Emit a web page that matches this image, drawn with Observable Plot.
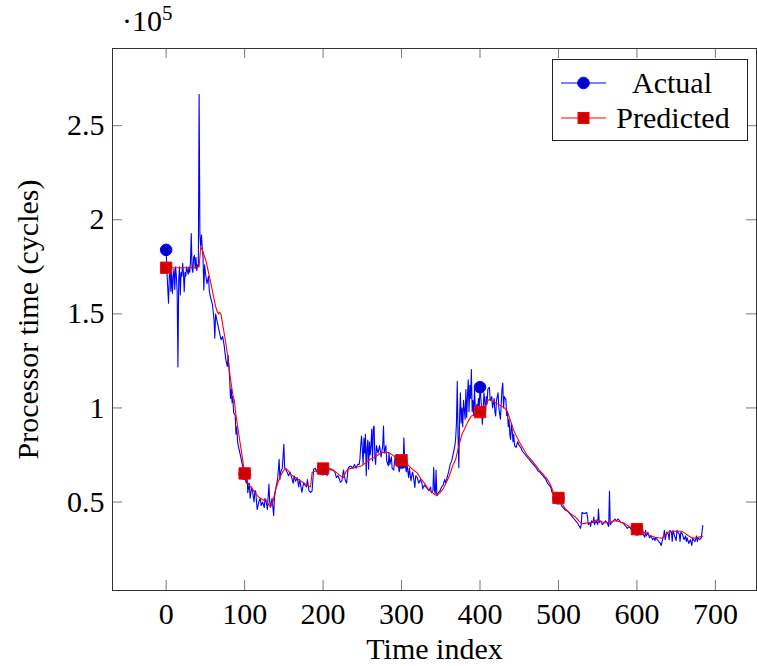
<!DOCTYPE html>
<html>
<head>
<meta charset="utf-8">
<script src="https://cdn.jsdelivr.net/npm/d3@7"></script>
<script src="https://cdn.jsdelivr.net/npm/@observablehq/plot@0.6"></script>
<style>
  html, body { margin: 0; padding: 0; background: white; }
</style>
</head>
<body>
<div id="chart"></div>
<script>
// Values in units of 1e5 processor cycles
const actualX = [0,1,3,4,5,6,7,8,9,10,11,12,13,14,15,16,17,18,19,20,21,22,23,24,25,26,27,28,29,30,31,32,33,34,35,36,37,38,39,40,41,42,43,44,45,46,47,48,49,50,52,54,55,57,59,61,62,63,64,66,68,70,72,74,76,78,79,81,82,83,84,85,86,88,89,90,91,93,95,97,99,100,102,103,104,106,107,109,110,112,113,114,116,118,120,121,123,125,126,128,129,131,132,133,135,137,138,140,142,143,144,145,146,148,150,151,152,154,156,158,160,162,163,165,167,169,170,171,173,175,177,179,180,182,184,186,188,190,192,194,196,198,200,202,205,207,210,213,215,217,219,221,222,224,226,228,230,232,234,236,238,240,242,244,246,247,248,249,250,251,252,253,254,255,256,257,258,259,260,261,262,263,264,265,266,267,268,269,270,272,274,276,277,278,280,281,283,284,285,287,288,290,292,293,295,297,299,300,302,303,304,306,307,309,310,312,314,315,317,318,320,322,324,326,327,329,331,333,335,337,338,340,341,342,343,344,345,347,349,351,353,355,356,358,360,362,364,366,368,369,370,371,372,373,374,375,376,377,378,379,380,381,382,383,384,385,386,387,388,389,390,391,392,393,394,395,396,397,398,399,400,401,402,403,404,405,406,407,408,409,410,412,413,415,416,418,419,420,421,423,424,426,427,428,429,430,431,433,434,435,436,437,438,439,440,441,442,443,444,446,448,450,452,454,456,458,460,462,464,466,468,470,472,474,476,478,480,482,484,486,488,490,492,494,496,498,500,502,504,506,508,510,512,514,516,518,520,522,524,526,527,528,529,530,532,534,536,537,538,540,541,542,544,545,546,548,550,551,552,554,556,558,560,562,564,565,566,568,570,572,574,576,578,580,582,584,586,588,590,592,594,596,598,600,602,604,606,607,608,610,611,612,614,616,618,620,622,623,624,626,628,630,631,632,634,635,636,638,640,641,642,644,645,646,648,650,651,652,654,655,656,658,660,662,663,664,666,668,670,671,672,674,676,677,678,680,682,684];
const actualY = [1.84,1.72,1.556,1.70,1.75,1.62,1.72,1.61,1.70,1.74,1.63,1.75,1.70,1.62,1.218,1.68,1.75,1.60,1.72,1.70,1.768,1.72,1.618,1.72,1.70,1.75,1.73,1.71,1.75,1.72,1.78,1.927,1.74,1.72,1.80,1.81,1.74,1.80,1.73,1.76,1.75,2.667,1.92,1.86,1.92,1.85,1.80,1.627,1.76,1.72,1.66,1.70,1.62,1.58,1.55,1.468,1.371,1.50,1.48,1.44,1.40,1.362,1.38,1.33,1.257,1.22,1.28,1.15,1.05,1.10,1.028,1.06,0.975,0.96,0.86,0.90,0.82,0.78,0.74,0.70,0.66,0.65,0.60,0.66,0.55,0.60,0.52,0.58,0.56,0.50,0.56,0.56,0.46,0.50,0.52,0.48,0.50,0.47,0.52,0.49,0.46,0.595,0.50,0.48,0.52,0.427,0.52,0.58,0.62,0.67,0.727,0.62,0.66,0.68,0.807,0.68,0.68,0.66,0.64,0.66,0.63,0.60,0.64,0.61,0.63,0.58,0.62,0.60,0.551,0.60,0.59,0.58,0.62,0.56,0.551,0.56,0.675,0.68,0.66,0.68,0.66,0.65,0.675,0.68,0.64,0.68,0.67,0.67,0.66,0.63,0.64,0.62,0.605,0.613,0.67,0.62,0.60,0.68,0.69,0.69,0.68,0.70,0.68,0.70,0.70,0.73,0.80,0.851,0.78,0.70,0.84,0.76,0.86,0.64,0.78,0.83,0.675,0.82,0.75,0.80,0.886,0.72,0.895,0.904,0.74,0.70,0.80,0.78,0.76,0.80,0.74,0.80,0.904,0.76,0.80,0.72,0.692,0.76,0.70,0.74,0.68,0.67,0.75,0.70,0.72,0.66,0.70,0.71,0.69,0.842,0.72,0.66,0.70,0.63,0.68,0.613,0.66,0.64,0.578,0.64,0.63,0.60,0.62,0.60,0.57,0.59,0.58,0.57,0.56,0.58,0.55,0.56,0.683,0.56,0.545,0.67,0.533,0.55,0.56,0.58,0.59,0.62,0.60,0.63,0.66,0.70,0.72,0.76,0.80,0.84,0.92,1.142,0.85,0.683,0.95,1.08,0.92,1.00,0.90,1.04,0.992,0.94,1.098,0.95,1.06,1.15,0.98,1.12,1.05,1.204,0.98,1.04,0.96,1.10,1.00,0.96,1.02,0.98,1.05,1.00,1.11,1.06,1.00,0.913,0.98,1.08,1.04,0.97,1.06,1.02,1.10,1.11,1.04,1.06,1.00,1.05,0.98,0.957,1.04,1.08,1.00,0.94,1.02,1.10,1.133,1.00,1.06,1.045,0.96,0.98,0.90,0.94,0.86,0.833,0.92,0.88,0.82,0.86,0.80,0.79,0.82,0.80,0.79,0.77,0.76,0.75,0.74,0.73,0.72,0.71,0.70,0.69,0.68,0.665,0.66,0.65,0.64,0.63,0.62,0.60,0.59,0.58,0.55,0.54,0.53,0.525,0.52,0.50,0.48,0.47,0.46,0.455,0.45,0.44,0.43,0.42,0.41,0.40,0.39,0.375,0.37,0.36,0.38,0.445,0.44,0.44,0.445,0.42,0.38,0.39,0.37,0.40,0.39,0.42,0.38,0.40,0.38,0.463,0.39,0.40,0.38,0.39,0.40,0.39,0.37,0.557,0.38,0.39,0.40,0.41,0.40,0.41,0.40,0.39,0.39,0.38,0.37,0.36,0.37,0.36,0.35,0.36,0.37,0.355,0.34,0.35,0.33,0.36,0.33,0.313,0.35,0.32,0.34,0.31,0.32,0.30,0.31,0.295,0.31,0.30,0.29,0.28,0.269,0.29,0.32,0.35,0.30,0.34,0.33,0.30,0.35,0.34,0.29,0.35,0.32,0.295,0.35,0.34,0.33,0.29,0.34,0.33,0.30,0.32,0.29,0.31,0.28,0.30,0.269,0.31,0.30,0.29,0.32,0.29,0.31,0.30,0.31,0.375];

const predX = [0,5,10,20,30,40,42,44,47,51,55,57,60,63,65,67,68,70,73,76,79,82,85,87,89,91,94,97,100,103,106,110,113,117,120,124,127,130,133,136,139,143,146,150,152,155,158,161,165,171,176,181,184,186,190,195,200,205,211,216,222,226,229,232,237,243,249,255,260,265,270,275,280,283,287,290,295,300,305,310,315,320,325,330,334,338,342,345,349,353,357,361,365,369,373,377,380,385,389,395,400,405,410,412,416,420,425,431,435,439,443,447,450,455,460,465,470,475,480,486,490,494,500,505,509,515,522,526,530,535,540,543,549,555,560,566,572,578,585,590,594,600,603,609,615,623,628,632,636,640,648,657,661,665,670,674,680,684];
const predY = [1.745,1.745,1.745,1.745,1.745,1.75,1.75,1.856,1.83,1.777,1.70,1.662,1.60,1.54,1.512,1.50,1.51,1.495,1.42,1.345,1.26,1.151,1.07,1.036,0.96,0.904,0.82,0.74,0.652,0.61,0.59,0.57,0.55,0.53,0.52,0.51,0.515,0.49,0.472,0.50,0.56,0.61,0.64,0.67,0.678,0.67,0.65,0.639,0.63,0.613,0.60,0.586,0.58,0.657,0.665,0.67,0.678,0.68,0.675,0.66,0.639,0.63,0.66,0.675,0.68,0.685,0.692,0.71,0.727,0.737,0.75,0.763,0.765,0.763,0.755,0.745,0.735,0.722,0.71,0.69,0.67,0.655,0.622,0.595,0.569,0.555,0.54,0.535,0.55,0.57,0.604,0.64,0.69,0.727,0.80,0.86,0.886,0.93,0.957,0.966,0.978,0.99,1.04,1.045,1.035,1.027,1.015,1.001,0.98,0.93,0.88,0.845,0.82,0.785,0.75,0.725,0.70,0.672,0.65,0.62,0.59,0.548,0.522,0.49,0.463,0.44,0.419,0.40,0.384,0.388,0.39,0.393,0.406,0.395,0.389,0.395,0.401,0.395,0.384,0.37,0.361,0.356,0.353,0.34,0.325,0.313,0.31,0.308,0.325,0.34,0.345,0.345,0.335,0.322,0.31,0.308,0.315,0.318];

const xTicks = [0,100,200,300,400,500,600,700];
const yTicks = [0.5,1,1.5,2,2.5];
const yTickLabels = ["0.5","1","1.5","2","2.5"];
const markEvery = 100;
const seriesNames = ["Actual","Predicted"];

const actual = actualX.map((x,i)=>({x, y: actualY[i]}));
const pred = predX.map((x,i)=>({x, y: predY[i]}));
const actualMarks = actual.filter(d => d.x % markEvery === 0);
const predMarks = pred.filter(d => d.x % markEvery === 0);

const W = 757, H = 666;
const mL = 112, mR = 1, mT = 48, mB = 76;
const fw = W - mL - mR, fh = H - mT - mB;
const tl = 10;
const font = "'Liberation Serif', 'Times New Roman', serif";
const fs = 30;

const svg = Plot.plot({
  width: W, height: H,
  marginLeft: mL, marginRight: mR, marginTop: mT, marginBottom: mB,
  style: {fontFamily: font, fontSize: fs + "px", background: "white", color: "black"},
  x: {domain: [-68.4, 752.4]},
  y: {domain: [0.03, 2.91]},
  marks: [
    Plot.axisX({ticks: xTicks, tickSize: 0, tickPadding: 12, tickFormat: d => String(d), label: null, fontSize: fs}),
    Plot.axisY({ticks: yTicks, tickSize: 0, tickPadding: 8, tickFormat: d => yTickLabels[yTicks.indexOf(d)], label: null, fontSize: fs}),
    Plot.tickX(xTicks, {x: d => d, insetTop: fh - tl, stroke: "#777", strokeWidth: 1}),
    Plot.tickX(xTicks, {x: d => d, insetBottom: fh - tl, stroke: "#777", strokeWidth: 1}),
    Plot.tickY(yTicks, {y: d => d, insetRight: fw - tl, stroke: "#777", strokeWidth: 1}),
    Plot.tickY(yTicks, {y: d => d, insetLeft: fw - tl, stroke: "#777", strokeWidth: 1}),
    Plot.line(actual, {x: "x", y: "y", stroke: "#0000ff", strokeWidth: 1.1}),
    Plot.dot(actualMarks, {x: "x", y: "y", r: 5.8, fill: "#0000cc", stroke: "#0000ff", strokeWidth: 1}),
    Plot.line(pred, {x: "x", y: "y", stroke: "#ff0000", strokeWidth: 1.1}),
    Plot.dot(predMarks, {x: "x", y: "y", symbol: "square", r: 6.4, fill: "#cc0000", stroke: "#ff0000", strokeWidth: 1}),
    Plot.frame({stroke: "#333", strokeWidth: 1}),
    Plot.text(["Time index"], {frameAnchor: "bottom", dy: 59, fontSize: fs, textAnchor: "middle", lineAnchor: "middle"}),
    Plot.text(["Processor time (cycles)"], {frameAnchor: "left", dx: -84, rotate: -90, fontSize: fs, textAnchor: "middle", lineAnchor: "middle"})
  ]
});

const s = d3.select(svg);
// scale label
const sl = s.append("text").attr("x", 122).attr("y", 31).attr("text-anchor", "start")
  .attr("font-family", font).attr("font-size", fs).attr("fill", "black");
sl.append("tspan").text("·10");
sl.append("tspan").attr("dy", -11).attr("font-size", 21).text("5");

// legend
const lg = s.append("g").attr("font-family", font).attr("font-size", fs);
lg.append("rect").attr("x", 552.5).attr("y", 59.5).attr("width", 195).attr("height", 81)
  .attr("fill", "white").attr("stroke", "#222").attr("stroke-width", 1);
const rows = [
  {name: seriesNames[0], y: 83, color: "#0000ff", fill: "#0000cc", sym: "circle", cx: 672},
  {name: seriesNames[1], y: 118, color: "#ff0000", fill: "#cc0000", sym: "square", cx: 673}
];
rows.forEach(r => {
  lg.append("line").attr("x1", 561).attr("x2", 606).attr("y1", r.y).attr("y2", r.y)
    .attr("stroke", r.color).attr("stroke-width", 1.1);
  if (r.sym === "circle") {
    lg.append("circle").attr("cx", 583.5).attr("cy", r.y).attr("r", 5.8)
      .attr("fill", r.fill).attr("stroke", r.color);
  } else {
    lg.append("rect").attr("x", 583.5 - 5.5).attr("y", r.y - 5.5).attr("width", 11).attr("height", 11)
      .attr("fill", r.fill).attr("stroke", r.color);
  }
  lg.append("text").attr("x", r.cx).attr("y", r.y).attr("dy", "0.33em")
    .attr("text-anchor", "middle").attr("fill", "black").text(r.name);
});

document.getElementById("chart").appendChild(svg);
</script>
</body>
</html>
